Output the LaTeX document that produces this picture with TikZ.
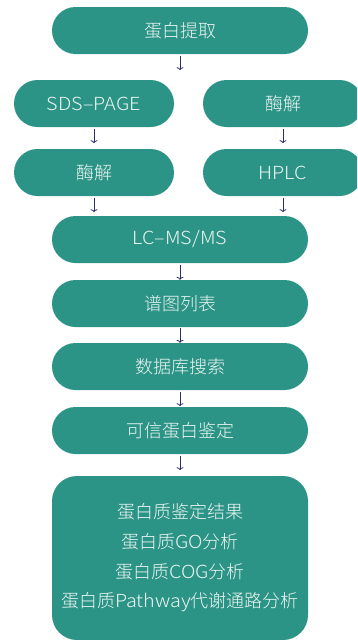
\documentclass[tikz,border=0pt]{standalone}
\usepackage{fontspec}
\setmainfont{Noto Sans CJK SC}[UprightFont={* Light}]
% Latin runs set a little wider than the CJK font's own Latin glyphs
\newfontfamily\latn{Noto Sans CJK SC}[UprightFont={* Light},FakeStretch=1.1]
\usetikzlibrary{arrows.meta}
\definecolor{boxteal}{RGB}{44,148,134}
\definecolor{boxtext}{RGB}{236,246,243}
\definecolor{arrownavy}{RGB}{44,46,112}
\tikzset{
  pill/.style={fill=boxteal, text=boxtext, rounded corners=23.5pt,
    minimum height=47pt, inner sep=0pt, font=\fontsize{18}{20}\selectfont},
  widepill/.style={pill, minimum width=256pt},
  halfpill/.style={pill, minimum width=160pt},
  flowarrow/.style={draw=arrownavy, line width=0.8pt, -{To[length=3pt,width=7pt]}}
}
\begin{document}
\begin{tikzpicture}[x=1pt,y=-1pt]
\useasboundingbox (0,0) rectangle (357,640);
\clip (0,0) rectangle (357,640);

\node[widepill] (extract) at (180,30.5) {蛋白提取};
\node[halfpill] (sds) at (94,103.5) {{\latn SDS–PAGE}};
\node[halfpill] (digestR) at (283,103.5) {酶解};
\node[halfpill] (digestL) at (94,172.5) {酶解};
\node[halfpill] (hplc) at (283,172.5) {{\latn HPLC}};
\node[widepill] (lcms) at (180,239.5) {{\latn LC–MS/MS}};
\node[widepill] (spectra) at (180,303.5) {谱图列表};
\node[widepill] (search) at (180,366.5) {数据库搜索};
\node[widepill] (ident) at (180,430.5) {可信蛋白鉴定};
\node[widepill, rounded corners=25pt, minimum height=164pt, align=center,
      font=\fontsize{18}{29.7}\selectfont] (results) at (180,558)
  {蛋白质鉴定结果\\蛋白质{\latn GO}分析\\蛋白质{\latn COG}分析\\蛋白质{\latn Pathway}代谢通路分析};

\draw[flowarrow] ([yshift=-1.5pt]extract.south) -- ++(0,14.5);
\draw[flowarrow] ([yshift=-1.5pt]sds.south) -- ++(0,14.5);
\draw[flowarrow] ([yshift=-1.5pt]digestR.south) -- ++(0,14.5);
\draw[flowarrow] ([yshift=-1.5pt]digestL.south) -- ++(0,14.5);
\draw[flowarrow] ([yshift=-1.5pt]hplc.south) -- ++(0,14.5);
\draw[flowarrow] ([yshift=-1.5pt]lcms.south) -- (spectra.north);
\draw[flowarrow] ([yshift=-1pt]spectra.south) -- (search.north);
\draw[flowarrow] ([yshift=-1.5pt]search.south) -- ++(0,14.5);
\draw[flowarrow] ([yshift=-1.5pt]ident.south) -- ++(0,14.5);
\end{tikzpicture}
\end{document}
